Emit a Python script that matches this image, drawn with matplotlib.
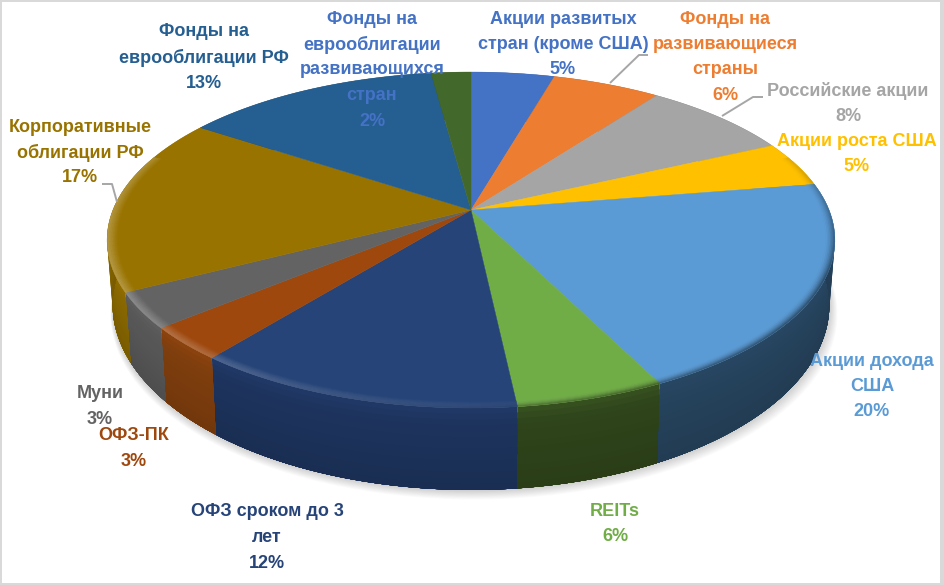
import numpy as np
import matplotlib
matplotlib.use("Agg")
import matplotlib.pyplot as plt
from matplotlib.collections import PolyCollection
from matplotlib.colors import to_rgb
from matplotlib.patches import Polygon, Rectangle

names = ["Акции развитых\nстран (кроме США)", "Фонды на\nразвивающиеся\nстраны", "Российские акции",
         "Акции роста США", "Акции дохода\nСША", "REITs", "ОФЗ сроком до 3\nлет", "ОФЗ-ПК", "Муни",
         "Корпоративные\nоблигации РФ", "Фонды на\nеврооблигации РФ",
         "Фонды на\nеврооблигации\nразвивающихся\nстран"]
# percent as printed on the labels
percents = [5, 6, 8, 5, 20, 6, 12, 3, 3, 17, 13, 2]
# slice sizes
shares = [4.4, 5.7, 7.9, 4.4, 20.3, 5.6, 12.4, 3.2, 3.4, 17.1, 13.5, 2.1]
top_colors = ["#4472C4", "#ED7D31", "#A5A5A5", "#FFC000", "#5B9BD5", "#70AD47",
              "#264478", "#9E480E", "#636363", "#997300", "#255E91", "#43682B"]
wall_colors = ["#2A4A80", "#8A4A1C", "#666666", "#8F6C00", "#274560", "#30461B",
               "#1E3560", "#83400E", "#5A5A5A", "#8C6A00", "#173A5A", "#2A401A"]
text_colors = top_colors[:11] + ["#4472C4"]

# label centre (x, y of the first line) in pixels
label_xy = [(563, 19), (725, 19), (848, 91), (857, 141), (872, 361), (615, 511),
            (267, 512), (134, 436), (100, 394), (80, 127), (204, 32), (372, 19)]
leaders = [([610, 639, 648], [83, 55, 55]),
           ([722, 753, 763], [116, 97, 97]),
           ([117, 112, 102], [202, 184, 184])]

cx, cy = 471, 210
a, b, e = 358, 162.6, 0.1786
line_h = 25.5


def top_pt(th, r=1.0):
    u, v = r * np.sin(th), r * np.cos(th)
    w = 1 + e * v
    return np.array([cx + a * u / w, cy - b * v / w])


def bot_pt(th):
    u, v = np.sin(th), np.cos(th)
    w = 1 + e * v
    return np.array([cx + 0.985 * a * u / w, cy - (1.104 * b * v / w - 61.4)])


def mix(c1, c2, t):
    c1, c2 = np.array(to_rgb(c1)), np.array(to_rgb(c2))
    return tuple(c1 + (c2 - c1) * t)


def light_at(th):
    # bevel catches light on the lower left, falls dark on the right
    return float(np.clip(0.5 + 0.5 * np.cos(th - np.radians(250)), 0, 1) ** 2)


fig = plt.figure(figsize=(9.44, 5.85), dpi=100, facecolor="#D9D9D9")
ax = fig.add_axes([0, 0, 1, 1])
ax.set_xlim(0, 944)
ax.set_ylim(585, 0)
ax.axis("off")
ax.add_patch(Rectangle((2, 2), 938, 581, fc="white", ec="none", zorder=0))

# soft shadow under the disc
all_th = np.radians(np.arange(0, 360, 2))
base = np.array([bot_pt(t) for t in all_th])
for d in range(12, 0, -1):
    pts = base.copy()
    pts[:, 0] = cx + (pts[:, 0] - cx) * (1 + d * 0.0012) + d * 0.25
    pts[:, 1] += d * 0.8
    ax.add_patch(Polygon(pts, fc="black", ec="none", alpha=0.016, zorder=1))

edges = np.cumsum([0] + shares) / 100 * 2 * np.pi

# side wall, each row painted from its own level down to the bottom so no seams show
n_rows = 14
for i in range(len(shares)):
    ths = np.linspace(edges[i], edges[i + 1], 60)
    L = light_at((edges[i] + edges[i + 1]) / 2)
    upper = np.array([top_pt(t) for t in ths])
    lower = np.array([bot_pt(t) for t in ths])
    for j in range(n_rows):
        f = j / n_rows
        c = wall_colors[i]
        if f < 0.15:
            c = mix(c, top_colors[i], 0.3 * L * (1 - f / 0.15))
        shade = 1 - 0.14 * f
        pts = np.vstack([upper + (lower - upper) * f, lower[::-1]])
        col = tuple(np.array(to_rgb(c)) * shade)
        ax.add_patch(Polygon(pts, fc=col, ec="none", zorder=2))

# top face
for i in range(len(shares)):
    ths = np.linspace(edges[i], edges[i + 1], 80)
    pts = [(cx, cy)] + [tuple(top_pt(t)) for t in ths]
    ax.add_patch(Polygon(pts, fc=top_colors[i], ec=top_colors[i], lw=0.3, zorder=3))

# bevel along the rim
rim_r = np.linspace(0.972, 1.0, 8)
polys, cols = [], []
for i in range(len(shares)):
    ths = np.linspace(edges[i], edges[i + 1], max(int(np.degrees(edges[i + 1] - edges[i]) / 1.5), 2))
    for t0, t1 in zip(ths[:-1], ths[1:]):
        tm = (t0 + t1) / 2
        if np.cos(tm) > 0.35:
            continue
        L = light_at(tm)
        for k in range(len(rim_r) - 1):
            r0, r1 = rim_r[k], rim_r[k + 1]
            s = (k + 0.5) / (len(rim_r) - 1)
            c = mix(top_colors[i], "#FFFFFF", 0.28 * L * s)
            c = mix(c, wall_colors[i], (1 - L) * s ** 2 * min(1, -np.cos(tm) + 0.6))
            polys.append([top_pt(t0, r0), top_pt(t1, r0), top_pt(t1, r1), top_pt(t0, r1)])
            cols.append(c)
ax.add_collection(PolyCollection(polys, facecolors=cols, edgecolors=cols, linewidths=0.3, zorder=4))

for xs, ys in leaders:
    ax.plot(xs, ys, color="#A6A6A6", lw=1.4, zorder=5, solid_capstyle="butt")

for name, pct, col, (x, y) in zip(names, percents, text_colors, label_xy):
    lines = name.split("\n") + ["%d%%" % pct]
    for k, line in enumerate(lines):
        ax.text(x, y + k * line_h, line, color=col, fontsize=13, fontweight="bold",
                family="Liberation Sans", ha="center", va="center", zorder=6)

fig.savefig("out.png", dpi=100, facecolor=fig.get_facecolor())
